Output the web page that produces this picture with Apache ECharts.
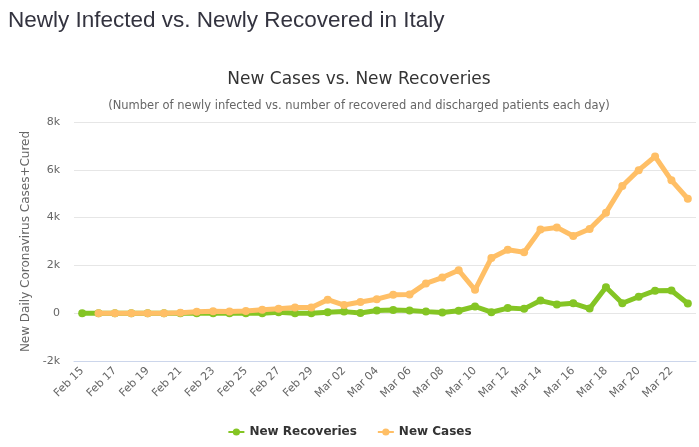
<!DOCTYPE html>
<html>
<head>
<meta charset="utf-8">
<script src="https://cdn.jsdelivr.net/npm/echarts@6/dist/echarts.min.js"></script>
<style>
  html, body { margin: 0; padding: 0; background: #fff; }
  #chart { width: 699px; height: 447px; }
</style>
</head>
<body>
<div id="chart"></div>
<script>
// Daily values (Feb 15 - Mar 23)
const days = [
  'Feb 15', 'Feb 16', 'Feb 17', 'Feb 18', 'Feb 19', 'Feb 20', 'Feb 21', 'Feb 22',
  'Feb 23', 'Feb 24', 'Feb 25', 'Feb 26', 'Feb 27', 'Feb 28', 'Feb 29',
  'Mar 01', 'Mar 02', 'Mar 03', 'Mar 04', 'Mar 05', 'Mar 06', 'Mar 07', 'Mar 08',
  'Mar 09', 'Mar 10', 'Mar 11', 'Mar 12', 'Mar 13', 'Mar 14', 'Mar 15', 'Mar 16',
  'Mar 17', 'Mar 18', 'Mar 19', 'Mar 20', 'Mar 21', 'Mar 22', 'Mar 23'
];
const newRecoveries = [
  0, 0, 0, 0, 0, 0, 0, 0,
  0, 0, 1, 2, 42, 1, 0,
  37, 66, 11, 116, 138, 109, 66, 33,
  102, 280, 41, 213, 181, 527, 369, 414,
  192, 1084, 415, 689, 943, 952, 408
];
const newCases = [
  null, 0, 0, 0, 0, 0, 17, 59,
  78, 72, 94, 147, 185, 234, 239,
  566, 342, 466, 587, 769, 778, 1247, 1492,
  1797, 977, 2313, 2651, 2547, 3497, 3590, 3233,
  3526, 4207, 5322, 5986, 6557, 5560, 4789
];

const chart = echarts.init(document.getElementById('chart'));

const font = 'DejaVu Sans, Verdana, sans-serif';

chart.setOption({
  backgroundColor: '#fff',
  animation: false,
  textStyle: { fontFamily: font },
  title: [
    {
      text: 'Newly Infected vs. Newly Recovered in Italy',
      left: 3, top: 4,
      textStyle: { fontFamily: 'Liberation Sans, Arial, sans-serif', fontSize: 22.5, fontWeight: 'normal', color: '#33333f' }
    },
    {
      text: 'New Cases vs. New Recoveries',
      left: 354, top: 66, textAlign: 'center',
      textStyle: { fontFamily: font, fontSize: 17, fontWeight: 'normal', color: '#333' }
    },
    {
      text: '(Number of newly infected vs. number of recovered and discharged patients each day)',
      left: 354, top: 95, textAlign: 'center',
      textStyle: { fontFamily: font, fontSize: 11.5, fontWeight: 'normal', color: '#666' }
    }
  ],
  legend: {
    bottom: 4, left: 'center',
    itemWidth: 16, itemHeight: 9, itemGap: 20,
    textStyle: { fontFamily: font, fontSize: 12, fontWeight: 'bold', color: '#333' },
    data: ['New Recoveries', 'New Cases']
  },
  grid: { left: 74, right: 3, top: 122, bottom: 86, containLabel: false },
  xAxis: {
    type: 'category',
    data: days,
    boundaryGap: true,
    axisLine: { onZero: false, lineStyle: { color: '#ccd6eb' } },
    axisTick: { show: false },
    axisLabel: {
      interval: 1, rotate: 45, color: '#666', fontSize: 11, margin: 8,
      fontFamily: font
    },
    splitLine: { show: false }
  },
  yAxis: {
    type: 'value',
    min: -2000, max: 8000, interval: 2000,
    name: 'New Daily Coronavirus Cases+Cured',
    nameLocation: 'middle', nameGap: 42, nameRotate: 90,
    nameTextStyle: { color: '#666', fontSize: 12, fontFamily: font },
    axisLine: { show: false },
    axisTick: { show: false },
    axisLabel: {
      color: '#666', fontSize: 11, margin: 14,
      formatter: (v) => (v === 0 ? '0' : (v / 1000) + 'k')
    },
    splitLine: { lineStyle: { color: '#e6e6e6' } }
  },
  series: [
    {
      name: 'New Recoveries',
      type: 'line',
      data: newRecoveries,
      color: '#84c524',
      lineStyle: { width: 5, color: '#84c524' },
      symbol: 'circle', symbolSize: 8,
      itemStyle: { color: '#84c524' },
      z: 2
    },
    {
      name: 'New Cases',
      type: 'line',
      data: newCases,
      color: '#ffbf66',
      lineStyle: { width: 5, color: '#ffbf66' },
      symbol: 'circle', symbolSize: 8,
      itemStyle: { color: '#ffbf66' },
      z: 3
    }
  ]
});
</script>
</body>
</html>
